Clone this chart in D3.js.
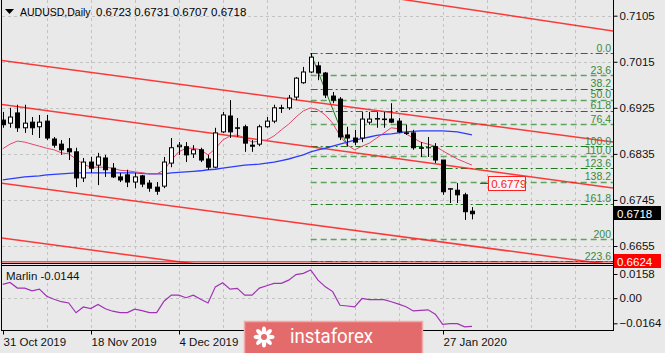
<!DOCTYPE html>
<html>
<head>
<meta charset="utf-8">
<script src="https://cdn.jsdelivr.net/npm/d3@7"></script>
<style>
  body { margin: 0; background: #e9e9e9; }
  svg { display: block; font-family: "Liberation Sans", Arial, sans-serif; }
</style>
</head>
<body>
<script>
// daily candles, oldest first (bar 0 = 31 Oct 2019)
var opens = [0.6901,0.6895,0.6915,0.6886,0.6897,0.6888,0.6899,0.6864,0.6854,0.6845,
  0.6839,0.6788,0.6819,0.6813,0.6827,0.6807,0.6790,0.6794,0.6780,0.6792,
  0.6778,0.6770,0.6772,0.6817,0.6849,0.6849,0.6835,0.6843,0.6825,0.6809,
  0.6878,0.6909,0.6886,0.6888,0.6852,0.6854,0.6888,0.6899,0.6925,0.6925,
  0.6946,0.6974,0.6995,0.7007,0.6993,0.6948,0.6942,0.6872,0.6866,0.6866,
  0.6897,0.6903,0.6903,0.6903,0.6899,0.6876,0.6876,0.6847,0.6847,0.6849,
  0.6823,0.6766,0.6764,0.6755,0.6723];
var highs = [0.6917,0.6925,0.6931,0.6931,0.6907,0.6911,0.6911,0.6868,0.6862,0.6866,
  0.6847,0.6827,0.6829,0.6837,0.6833,0.6817,0.6798,0.6804,0.6798,0.6794,
  0.6784,0.6780,0.6829,0.6866,0.6858,0.6858,0.6852,0.6847,0.6833,0.6886,
  0.6917,0.6940,0.6905,0.6892,0.6862,0.6892,0.6907,0.6931,0.6931,0.6950,
  0.6985,0.7005,0.7032,0.7015,0.6995,0.6956,0.6946,0.6888,0.6882,0.6917,
  0.6917,0.6917,0.6917,0.6934,0.6905,0.6892,0.6882,0.6858,0.6868,0.6856,
  0.6823,0.6768,0.6778,0.6759,0.6731];
var lows = [0.6886,0.6886,0.6878,0.6876,0.6872,0.6866,0.6862,0.6847,0.6833,0.6823,
  0.6770,0.6780,0.6798,0.6774,0.6790,0.6788,0.6780,0.6770,0.6768,0.6770,
  0.6761,0.6755,0.6768,0.6809,0.6833,0.6819,0.6827,0.6819,0.6804,0.6807,
  0.6876,0.6866,0.6868,0.6839,0.6839,0.6850,0.6886,0.6895,0.6915,0.6921,
  0.6940,0.6972,0.6993,0.6979,0.6944,0.6934,0.6862,0.6850,0.6852,0.6858,
  0.6892,0.6886,0.6886,0.6895,0.6876,0.6872,0.6843,0.6829,0.6829,0.6817,
  0.6755,0.6739,0.6739,0.6706,0.6707];
var closes = [0.6892,0.6907,0.6886,0.6895,0.6886,0.6897,0.6866,0.6852,0.6843,0.6839,
  0.6788,0.6819,0.6807,0.6829,0.6804,0.6790,0.6784,0.6780,0.6790,0.6776,
  0.6768,0.6762,0.6819,0.6847,0.6852,0.6833,0.6843,0.6823,0.6809,0.6876,
  0.6911,0.6878,0.6885,0.6856,0.6850,0.6888,0.6899,0.6925,0.6924,0.6944,
  0.6983,0.6995,0.7024,0.6993,0.6950,0.6940,0.6868,0.6866,0.6858,0.6903,
  0.6903,0.6904,0.6902,0.6897,0.6878,0.6875,0.6847,0.6846,0.6847,0.6823,
  0.6761,0.6767,0.6755,0.6722,0.6718];

// moving averages as drawn on the chart
var maFast = [0.6845,0.6854,0.6860,0.6858,0.6854,0.6850,0.6846,0.6843,0.6837,0.6835,
  0.6825,0.6815,0.6809,0.6809,0.6809,0.6807,0.6803,0.6802,0.6800,0.6798,
  0.6796,0.6796,0.6803,0.6823,0.6839,0.6846,0.6846,0.6843,0.6833,0.6845,
  0.6862,0.6870,0.6872,0.6866,0.6858,0.6860,0.6862,0.6870,0.6882,0.6893,
  0.6907,0.6919,0.6925,0.6921,0.6911,0.6895,0.6870,0.6852,0.6843,0.6850,
  0.6856,0.6866,0.6876,0.6886,0.6884,0.6874,0.6866,0.6858,0.6854,0.6850,
  0.6841,0.6833,0.6825,0.6819,0.6813];
var maSlow = [0.6784,0.6786,0.6788,0.6790,0.6791,0.6792,0.6794,0.6795,0.6796,0.6797,
  0.6798,0.6798,0.6798,0.6798,0.6798,0.6798,0.6798,0.6798,0.6798,0.6797,
  0.6796,0.6796,0.6796,0.6798,0.6799,0.6800,0.6801,0.6802,0.6804,0.6805,
  0.6807,0.6809,0.6811,0.6813,0.6814,0.6815,0.6817,0.6819,0.6822,0.6825,
  0.6829,0.6833,0.6839,0.6843,0.6846,0.6850,0.6854,0.6858,0.6862,0.6865,
  0.6868,0.6871,0.6873,0.6874,0.6876,0.6878,0.6879,0.6880,0.6880,0.6880,
  0.6880,0.6879,0.6878,0.6875,0.6872];

// Marlin oscillator
var marlin = [0.0090,0.0103,0.0066,0.0066,0.0048,0.0059,0.0013,-0.0007,-0.0023,-0.0031,
  -0.0095,-0.0057,-0.0068,-0.0041,-0.0069,-0.0085,-0.0094,-0.0094,-0.0072,-0.0081,
  -0.0094,-0.0094,-0.0020,0.0020,0.0020,0.0003,0.0020,-0.0007,-0.0031,0.0074,
  0.0101,0.0059,0.0064,0.0020,0.0020,0.0066,0.0081,0.0097,0.0097,0.0118,
  0.0154,0.0162,0.0184,0.0118,0.0074,0.0043,-0.0046,-0.0051,-0.0057,-0.0002,
  -0.0009,-0.0009,-0.0009,-0.0023,-0.0039,-0.0056,-0.0083,-0.0079,-0.0076,-0.0105,
  -0.0171,-0.0166,-0.0166,-0.0187,-0.0184];

var priceTicks = [0.7105, 0.7015, 0.6925, 0.6835, 0.6745, 0.6655];
var marlinTicks = [0.0158, 0, -0.0164];
var dateBars = [0, 12, 24, 60];
var dateLabels = ["31 Oct 2019", "18 Nov 2019", "4 Dec 2019", "27 Jan 2020"];
var gridBars = [6, 12, 18, 24, 30, 36, 42, 48, 54, 60, 66, 72, 78];

// channel lines: [bar, price] end points
var channels = [
  [[-0.4, 0.7018], [83.3, 0.6858]],
  [[-0.4, 0.6932], [83.3, 0.6768]],
  [[-0.4, 0.6778], [83.3, 0.6618]],
  [[-0.4, 0.6671], [83.3, 0.6511]],
  [[40, 0.7168], [83.3, 0.7075]]
];

// fibonacci retracement from the 31 Dec high to the 8 Jan low
var fibHigh = 0.7032, fibHighBar = 42;
var fibLow = 0.6850, fibLowBar = 47;
var fibLevels = [0, 23.6, 38.2, 50, 61.8, 76.4, 100, 110, 123.6, 138.2, 161.8, 200, 223.6];
var fibLabels = ["0.0", "23.6", "38.2", "50.0", "61.8", "76.4", "100.0", "110.0", "123.6", "138.2", "161.8", "200", "223.6"];

var lastPrice = 0.6718;
var hLine = 0.6624;
var noteLevel = 0.6779, noteBar = 66.2;

var w = 665, h = 353;
var left = 2, right = 613;
var mainBottom = 263, subTop = 265, subBottom = 330;

var x = d3.scaleLinear().domain([0, 64]).range([2.7, 472]);
var y = d3.scaleLinear().domain([0.6655, 0.7105]).range([246, 15.7]);
var ym = d3.scaleLinear().domain([-0.0164, 0.0158]).range([323.3, 274]);

var svg = d3.select("body").append("svg")
  .attr("width", w)
  .attr("height", h);

svg.append("rect").attr("width", w).attr("height", h).attr("fill", "#e9e9e9");

svg.append("clipPath").attr("id", "mainClip")
  .append("rect").attr("x", left).attr("y", 0).attr("width", right - left).attr("height", mainBottom);
svg.append("clipPath").attr("id", "subClip")
  .append("rect").attr("x", left).attr("y", subTop).attr("width", right - left).attr("height", subBottom - subTop);

// grid
var grid = svg.append("g").attr("stroke", "#c3c3c3").attr("stroke-dasharray", "3,3").attr("stroke-width", 1);
grid.selectAll(".hg").data(priceTicks).enter().append("line")
  .attr("x1", left).attr("x2", right)
  .attr("y1", function(d) { return Math.round(y(d)) + 0.5; })
  .attr("y2", function(d) { return Math.round(y(d)) + 0.5; });
grid.append("line")
  .attr("x1", left).attr("x2", right)
  .attr("y1", Math.round(ym(0)) + 0.5).attr("y2", Math.round(ym(0)) + 0.5);
grid.selectAll(".vg").data(gridBars).enter().append("line")
  .attr("x1", function(d) { return Math.round(x(d)) + 0.5; })
  .attr("x2", function(d) { return Math.round(x(d)) + 0.5; })
  .attr("y1", 0).attr("y2", mainBottom);
grid.selectAll(".vg2").data(gridBars).enter().append("line")
  .attr("x1", function(d) { return Math.round(x(d)) + 0.5; })
  .attr("x2", function(d) { return Math.round(x(d)) + 0.5; })
  .attr("y1", subTop).attr("y2", subBottom);

var main = svg.append("g").attr("clip-path", "url(#mainClip)");

// fibonacci levels
var fibPrice = function(l) { return fibHigh - l / 100 * (fibHigh - fibLow); };
main.selectAll(".fib").data(fibLevels).enter().append("line")
  .attr("x1", x(fibHighBar)).attr("x2", right)
  .attr("y1", function(d) { return Math.round(y(fibPrice(d))) + 0.5; })
  .attr("y2", function(d) { return Math.round(y(fibPrice(d))) + 0.5; })
  .attr("stroke", function(d, i) { return i % 2 === 0 ? "#1c7a1c" : "#5ea35e"; })
  .attr("stroke-width", function(d, i) { return i % 2 === 0 ? 1 : 1.4; })
  .attr("stroke-dasharray", function(d, i) { return i % 2 === 0 ? "7,3,2,3" : "6,4"; });
main.append("line")
  .attr("x1", x(fibHighBar)).attr("y1", y(fibHigh))
  .attr("x2", x(fibLowBar)).attr("y2", y(fibLow))
  .attr("stroke", "#1c7a1c").attr("stroke-width", 1);

// channel lines
main.selectAll(".chan").data(channels).enter().append("line")
  .attr("x1", function(d) { return x(d[0][0]); })
  .attr("y1", function(d) { return y(d[0][1]); })
  .attr("x2", function(d) { return x(d[1][0]); })
  .attr("y2", function(d) { return y(d[1][1]); })
  .attr("stroke", "#ff1a1a").attr("stroke-width", 1.5).attr("stroke-opacity", 0.85);

main.append("line")
  .attr("x1", left).attr("x2", right)
  .attr("y1", y(hLine)).attr("y2", y(hLine))
  .attr("stroke", "#ff0000").attr("stroke-width", 1);

// moving averages
var maLine = function(arr) {
  return d3.line().x(function(d, i) { return x(i); }).y(function(d) { return y(d); })(arr);
};
main.append("path").attr("d", maLine(maSlow))
  .attr("fill", "none").attr("stroke", "#2d3cff").attr("stroke-width", 1.3);
main.append("path").attr("d", maLine(maFast))
  .attr("fill", "none").attr("stroke", "#e8456a").attr("stroke-width", 1);

// candles
var bars = d3.range(opens.length);
var cg = main.append("g");
cg.selectAll(".wick").data(bars).enter().append("line")
  .attr("x1", function(i) { return Math.round(x(i)) + 0.5; })
  .attr("x2", function(i) { return Math.round(x(i)) + 0.5; })
  .attr("y1", function(i) { return y(highs[i]); })
  .attr("y2", function(i) { return y(lows[i]); })
  .attr("stroke", "#000").attr("stroke-width", 1);
cg.selectAll(".body").data(bars).enter().append("rect")
  .attr("x", function(i) { return Math.round(x(i)) - 1.5; })
  .attr("width", 4)
  .attr("y", function(i) { return y(Math.max(opens[i], closes[i])); })
  .attr("height", function(i) { return Math.max(0.01, Math.abs(y(opens[i]) - y(closes[i]))); })
  .attr("fill", function(i) { return closes[i] > opens[i] ? "#fff" : "#000"; })
  .attr("stroke", "#000").attr("stroke-width", 1);

// price note box
var ny = Math.round(y(noteLevel)) + 0.5;
main.append("line")
  .attr("x1", x(noteBar) - 8).attr("x2", x(noteBar))
  .attr("y1", ny).attr("y2", ny)
  .attr("stroke", "#ff0000");
main.append("rect")
  .attr("x", Math.round(x(noteBar)) + 0.5).attr("y", ny - 7)
  .attr("width", 37).attr("height", 14)
  .attr("fill", "#f6f6f6").attr("stroke", "#ff2020");
main.append("text")
  .attr("x", x(noteBar) + 3).attr("y", ny + 4.5)
  .attr("fill", "#ff2020").attr("font-size", 11.5)
  .text(noteLevel.toFixed(4));

// fib labels
main.selectAll(".fibl").data(fibLevels).enter().append("text")
  .attr("x", right - 2)
  .attr("y", function(d) { return y(fibPrice(d)) - 1.5; })
  .attr("text-anchor", "end")
  .attr("fill", "#3a8a3a").attr("font-size", 10.5)
  .text(function(d, i) { return fibLabels[i]; });

// marlin panel
var sub = svg.append("g").attr("clip-path", "url(#subClip)");
sub.append("path")
  .attr("d", d3.line().x(function(d, i) { return x(i); }).y(function(d) { return ym(d); })(marlin))
  .attr("fill", "none").attr("stroke", "#a032b4").attr("stroke-width", 1.2);
svg.append("text").attr("x", 6).attr("y", 280).attr("font-size", 11.5).attr("fill", "#111")
  .text("Marlin -0.0144");

// frames
var frame = svg.append("g").attr("stroke", "#000").attr("stroke-width", 1).attr("fill", "none");
frame.append("line").attr("x1", left - 0.5).attr("x2", left - 0.5).attr("y1", 0).attr("y2", subBottom);
frame.append("line").attr("x1", right + 0.5).attr("x2", right + 0.5).attr("y1", 0).attr("y2", subBottom + 0.5);
frame.append("line").attr("x1", left).attr("x2", right).attr("y1", mainBottom + 0.5).attr("y2", mainBottom + 0.5);
frame.append("line").attr("x1", left).attr("x2", right).attr("y1", subTop + 0.5).attr("y2", subTop + 0.5);
frame.append("line").attr("x1", left - 1).attr("x2", right + 1).attr("y1", subBottom + 0.5).attr("y2", subBottom + 0.5);

// right price axis
var yAxis = d3.axisRight(y).tickValues(priceTicks).tickSize(4).tickPadding(2)
  .tickFormat(d3.format(".4f"));
var ya = svg.append("g").attr("transform", "translate(" + (right + 0.5) + ",0)").call(yAxis);
ya.select(".domain").remove();
ya.selectAll("text").attr("font-size", 11.5).attr("fill", "#111").attr("font-family", "Liberation Sans, Arial, sans-serif");

var mAxis = d3.axisRight(ym).tickValues(marlinTicks).tickSize(4).tickPadding(2)
  .tickFormat(function(d) { return d === 0 ? "0.00" : d3.format(".4f")(d); });
var ma = svg.append("g").attr("transform", "translate(" + (right + 0.5) + ",0)").call(mAxis);
ma.select(".domain").remove();
ma.selectAll("text").attr("font-size", 11.5).attr("fill", "#111").attr("font-family", "Liberation Sans, Arial, sans-serif");

// current price and line price tags
var tags = [[lastPrice, "#000"], [hLine, "#ff0000"]];
tags.forEach(function(t) {
  var ty = Math.round(y(t[0])) - 1;
  svg.append("rect").attr("x", right + 1).attr("y", ty - 7).attr("width", 47).attr("height", 14).attr("fill", t[1]);
  svg.append("text").attr("x", right + 4).attr("y", ty + 4.5).attr("font-size", 11.5).attr("fill", "#fff")
    .text(t[0].toFixed(4));
});

// date axis
var xAxis = d3.axisBottom(x).tickValues(dateBars).tickSize(4).tickPadding(3)
  .tickFormat(function(d, i) { return dateLabels[i]; });
var xa = svg.append("g").attr("transform", "translate(0," + (subBottom + 0.5) + ")").call(xAxis);
xa.select(".domain").remove();
xa.selectAll("text").attr("text-anchor", "start").attr("font-size", 11.5).attr("fill", "#111")
  .attr("font-family", "Liberation Sans, Arial, sans-serif");
xa.selectAll(".tick").attr("transform", function(d) { return "translate(" + (Math.round(x(d)) + 0.5) + ",0)"; });

// title
svg.append("path").attr("d", "M5,9 L14,9 L9.5,14 Z").attr("fill", "#000");
svg.append("text").attr("x", 20).attr("y", 16).attr("font-size", 10.5).attr("fill", "#000").text("AUDUSD,Daily");
svg.append("text").attr("x", 96).attr("y", 16).attr("font-size", 11.5).attr("fill", "#000")
  .text([opens[64], highs[64], lows[64], closes[64]].map(function(v) { return v.toFixed(4); }).join(" "));

// watermark
var wm = svg.append("g");
wm.append("rect").attr("x", 244.5).attr("y", 321.5).attr("width", 178).attr("height", 40)
  .attr("fill", "#e46b6b").attr("stroke", "#f2a9a9").attr("stroke-width", 1.5);
var logo = wm.append("g").attr("transform", "translate(264,337)");
d3.range(8).forEach(function(k) {
  logo.append("ellipse").attr("cx", 0).attr("cy", -6).attr("rx", 2.2).attr("ry", 4.5)
    .attr("fill", "#fff").attr("transform", "rotate(" + (k * 45) + ")");
});
logo.append("circle").attr("r", 3).attr("fill", "#e46b6b");
wm.append("text").attr("x", 290).attr("y", 343).attr("font-family", "Roboto, sans-serif")
  .attr("font-size", 21).attr("fill", "#fff").attr("textLength", 83).attr("lengthAdjust", "spacingAndGlyphs")
  .text("instaforex");
</script>
</body>
</html>
